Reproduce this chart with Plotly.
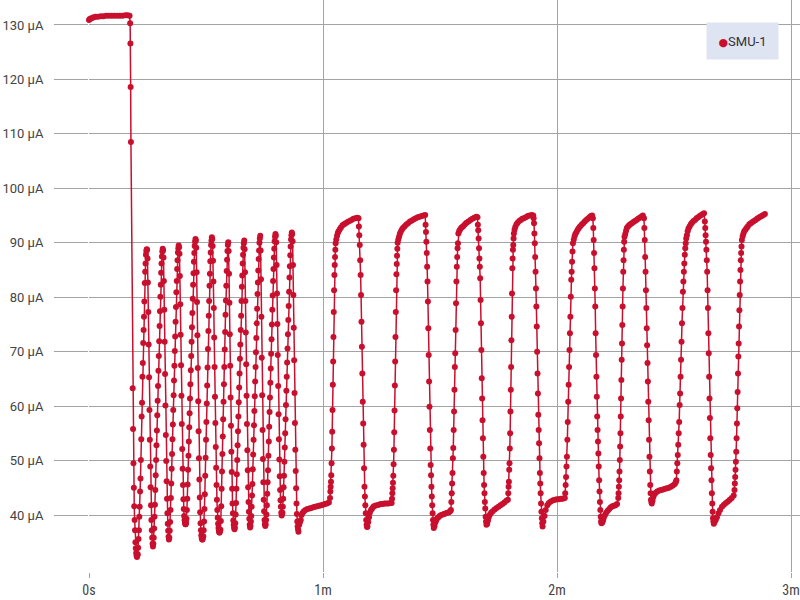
import plotly.graph_objects as go

# ---------------- data (time in seconds, current in µA) ----------------
t_hold = [0, 0.2, 0.5, 0.8, 1.2, 1.7, 2.3, 3.0, 3.7, 4.4, 5.1, 5.8, 6.5, 7.2, 7.9, 8.6, 9.3, 9.9, 10.4,
          10.55, 10.62, 10.68, 10.75,
          11.2, 11.3, 11.4, 11.5, 11.6, 11.7, 11.8, 11.9, 12.0, 12.1, 12.2, 12.3, 12.4]
i_hold = [130.9, 131.1, 131.2, 131.3, 131.4, 131.5, 131.5, 131.6, 131.6, 131.7, 131.7, 131.7, 131.7, 131.7, 131.7, 131.7, 131.8, 131.8, 131.7,
          130.3, 126.6, 118.6, 108.5,
          63.3, 55.8, 49.5, 45.0, 41.6, 39.1, 37.2, 35.0, 33.9, 33.0, 32.5, 32.3, 32.6]

t_fast = [
    [12.5, 12.6, 12.7, 12.8, 12.9, 13.0, 13.1, 13.2, 13.3, 13.4, 13.5, 13.6, 13.7, 13.8, 13.9, 14.0, 14.1, 14.2, 14.3, 14.4,
     14.5, 14.6, 14.7, 14.8, 14.9, 15.0, 15.1, 15.2, 15.3, 15.4, 15.5, 15.6, 15.7, 15.8, 15.9, 16.0, 16.1, 16.2, 16.3, 16.4],
    [16.5, 16.6, 16.7, 16.8, 16.9, 17.0, 17.1, 17.2, 17.3, 17.4, 17.5, 17.6, 17.7, 17.8, 17.9, 18.0, 18.1, 18.2, 18.3, 18.4,
     18.5, 18.6, 18.7, 18.8, 18.9, 19.0, 19.1, 19.2, 19.3, 19.4, 19.5, 19.6, 19.7, 19.8, 19.9, 20.0, 20.1, 20.2, 20.3, 20.4,
     20.5, 20.6],
    [20.7, 20.8, 20.9, 21.0, 21.1, 21.2, 21.3, 21.4, 21.5, 21.6, 21.7, 21.8, 21.9, 22.0, 22.1, 22.2, 22.3, 22.4, 22.5, 22.6,
     22.7, 22.8, 22.9, 23.0, 23.1, 23.2, 23.3, 23.4, 23.5, 23.6, 23.7, 23.8, 23.9, 24.0, 24.1, 24.2, 24.3, 24.4, 24.5, 24.6,
     24.7, 24.8, 24.9],
    [25.0, 25.1, 25.2, 25.3, 25.4, 25.5, 25.6, 25.7, 25.8, 25.9, 26.0, 26.1, 26.2, 26.3, 26.4, 26.5, 26.6, 26.7, 26.8, 26.9,
     27.0, 27.1, 27.2, 27.3, 27.4, 27.5, 27.6, 27.7, 27.8, 27.9, 28.0, 28.1, 28.2, 28.3, 28.4, 28.5, 28.6, 28.7, 28.8, 28.9,
     29.0, 29.1, 29.2, 29.3],
    [29.4, 29.5, 29.6, 29.7, 29.8, 29.9, 30.0, 30.1, 30.2, 30.3, 30.4, 30.5, 30.6, 30.7, 30.8, 30.9, 31.0, 31.1, 31.2, 31.3,
     31.4, 31.5, 31.6, 31.7, 31.8, 31.9, 32.0, 32.1, 32.2, 32.3, 32.4, 32.5, 32.6, 32.7, 32.8, 32.9, 33.0, 33.1, 33.2, 33.3,
     33.4, 33.5, 33.6, 33.7],
    [33.8, 33.9, 34.0, 34.1, 34.2, 34.3, 34.4, 34.5, 34.6, 34.7, 34.8, 34.9, 35.0, 35.1, 35.2, 35.3, 35.4, 35.5, 35.6, 35.7,
     35.8, 35.9, 36.0, 36.1, 36.2, 36.3, 36.4, 36.5, 36.6, 36.7, 36.8, 36.9, 37.0, 37.1, 37.2, 37.3, 37.4],
    [37.5, 37.6, 37.7, 37.8, 37.9, 38.0, 38.1, 38.2, 38.3, 38.4, 38.5, 38.6, 38.7, 38.8, 38.9, 39.0, 39.1, 39.2, 39.3, 39.4,
     39.5, 39.6, 39.7, 39.8, 39.9, 40.0, 40.1, 40.2, 40.3, 40.4, 40.5, 40.6, 40.7, 40.8, 40.9, 41.0, 41.1, 41.2, 41.3, 41.4],
    [41.5, 41.6, 41.7, 41.8, 41.9, 42.0, 42.1, 42.2, 42.3, 42.4, 42.5, 42.6, 42.7, 42.8, 42.9, 43.0, 43.1, 43.2, 43.3, 43.4,
     43.5, 43.6, 43.7, 43.8, 43.9, 44.0, 44.1, 44.2, 44.3, 44.4, 44.5, 44.6, 44.7, 44.8, 44.9, 45.0, 45.1, 45.2],
    [45.3, 45.4, 45.5, 45.6, 45.7, 45.8, 45.9, 46.0, 46.1, 46.2, 46.3, 46.4, 46.5, 46.6, 46.7, 46.8, 46.9, 47.0, 47.1, 47.2,
     47.3, 47.4, 47.5, 47.6, 47.7, 47.8, 47.9, 48.0, 48.1, 48.2, 48.3, 48.4, 48.5, 48.6, 48.7, 48.8, 48.9, 49.0, 49.1, 49.2,
     49.3, 49.4, 49.5],
    [49.6, 49.7, 49.8, 49.9, 50.0, 50.1, 50.2, 50.3, 50.4, 50.5, 50.6, 50.7, 50.8, 50.9, 51.0, 51.1, 51.2, 51.3, 51.4, 51.5,
     51.6, 51.7, 51.8, 51.9, 52.0, 52.1, 52.2, 52.3, 52.4, 52.5, 52.6, 52.7, 52.8, 52.9, 53.0, 53.1, 53.2, 53.3, 53.4, 53.5,
     53.6],
]
i_fast = [
    [32.8, 34.0, 35.6, 37.2, 39.7, 41.5, 44.3, 46.7, 50.1, 53.9, 58.1, 60.6, 65.4, 67.9, 71.6, 74.0, 76.4, 79.2, 82.6, 84.7,
     86.2, 87.8, 88.5, 88.8, 88.7,
     87.1, 82.7, 77.3, 71.3, 65.3, 59.3, 53.8, 48.9, 45.1, 41.8, 39.1, 37.2, 35.8, 34.7, 34.2],
    [34.7, 35.8, 37.5, 39.7, 41.9, 44.6, 47.3, 50.1, 52.8, 55.5, 58.3, 61.0, 63.7, 66.5, 69.2, 71.9, 74.7, 77.4, 80.1, 82.3,
     84.5, 86.2, 87.5, 88.4, 88.9, 88.6,
     87.3, 83.0, 77.7, 71.8, 65.9, 60.1, 54.7, 49.9, 46.2, 43.0, 40.3, 38.4, 37.1, 36.0, 35.5, 35.8],
    [37.1, 38.7, 40.9, 43.1, 45.8, 48.5, 51.2, 53.9, 56.6, 59.3, 62.0, 64.7, 67.4, 70.1, 72.8, 75.5, 78.2, 80.9, 83.0, 85.2,
     86.8, 88.2, 89.0, 89.5, 89.2,
     88.0, 83.9, 78.7, 73.1, 67.5, 61.9, 56.7, 52.1, 48.5, 45.5, 42.9, 41.1, 39.8, 39.1, 38.6, 38.3, 38.3, 38.6],
    [39.3, 40.9, 43.0, 45.6, 48.3, 50.9, 53.5, 56.1, 58.7, 61.4, 64.0, 66.6, 69.2, 71.8, 74.5, 77.1, 79.7, 82.3, 84.4, 86.5,
     88.1, 89.4, 90.2, 90.7,
     90.4, 89.1, 84.6, 79.1, 73.0, 67.0, 60.9, 55.4, 50.4, 46.5, 43.2, 40.5, 38.5, 37.2, 36.3, 35.8, 35.5, 35.5, 35.8, 36.1],
    [37.2, 38.8, 41.1, 43.8, 47.2, 50.5, 53.8, 57.1, 60.5, 63.8, 67.1, 70.5, 73.8, 76.6, 79.3, 82.1, 84.3, 86.6, 88.2, 89.6,
     90.4, 91.0, 90.7,
     89.4, 86.7, 82.9, 78.0, 72.6, 67.2, 61.7, 56.9, 52.5, 48.7, 45.5, 42.8, 40.9, 39.5, 38.4, 37.6, 37.1, 36.8, 36.8, 37.1, 37.3],
    [38.9, 41.6, 44.8, 48.0, 51.2, 54.4, 57.6, 60.8, 64.0, 67.2, 70.4, 73.6, 76.8, 79.4, 82.1, 84.8, 86.9, 88.5, 89.6, 90.1,
     88.5, 84.3, 79.0, 73.2, 67.4, 61.6, 56.4, 51.6, 47.9, 44.8, 42.1, 40.3, 39.0, 38.2, 37.7, 37.4, 37.7],
    [38.5, 40.1, 42.2, 44.8, 47.5, 50.1, 52.8, 55.4, 58.1, 60.7, 63.4, 66.0, 68.7, 71.3, 74.0, 76.6, 79.3, 81.9, 84.0, 86.2,
     87.8, 89.1, 89.9, 90.4,
     88.8, 84.6, 79.3, 73.5, 67.7, 61.9, 56.7, 51.9, 48.2, 45.1, 42.4, 40.6, 39.3, 38.2, 37.7, 38.0],
    [38.8, 39.8, 41.5, 43.6, 45.7, 48.4, 51.1, 53.8, 56.5, 59.1, 61.8, 64.5, 67.2, 69.9, 72.5, 75.2, 77.9, 80.6, 82.7, 84.9,
     87.0, 88.6, 90.0, 90.8, 91.3,
     88.6, 83.3, 76.4, 68.9, 62.0, 55.6, 50.3, 46.0, 42.8, 40.7, 39.1, 38.3, 38.0],
    [38.3, 39.1, 40.1, 41.8, 43.9, 46.0, 48.2, 50.9, 53.5, 56.2, 58.9, 61.6, 64.3, 66.9, 69.6, 72.3, 75.0, 77.7, 80.3, 83.0,
     85.2, 87.3, 88.9, 90.3, 91.1, 91.6, 91.3,
     90.1, 85.9, 80.7, 75.1, 69.4, 63.7, 58.5, 53.9, 50.2, 47.1, 44.6, 42.7, 41.5, 40.4, 39.9, 40.2],
    [40.4, 41.5, 43.0, 45.1, 47.2, 49.8, 52.4, 55.0, 57.6, 60.2, 62.8, 65.4, 68.0, 70.6, 73.2, 75.8, 78.4, 81.0, 83.6, 85.7,
     87.7, 89.3, 90.6, 91.4, 91.9, 91.6,
     90.3, 85.9, 80.4, 74.4, 68.4, 62.4, 56.9, 52.0, 48.1, 44.9, 42.1, 40.2, 38.8, 37.9, 37.4],
]

t_slow = [
    [53.7, 53.9, 54.1, 54.3, 54.5, 54.8, 55.1, 55.5, 56.0, 56.5, 57.0, 57.5, 58.0, 58.5, 59.0, 59.5, 60.0, 60.5, 61.0, 61.5,
     61.80, 61.88, 61.96, 62.04, 62.12, 62.20, 62.28, 62.36, 62.44, 62.52, 62.60, 62.68, 62.76, 62.84, 62.92, 63.00, 63.08, 63.16, 63.24,
     63.4, 63.6, 63.8, 64.0, 64.3, 64.6, 65.0, 65.4, 65.8, 66.3, 66.8, 67.3, 67.8, 68.3, 68.8, 69.1,
     69.20, 69.31, 69.42, 69.53, 69.64, 69.75, 69.86, 69.97, 70.08, 70.19, 70.30, 70.41, 70.52, 70.63, 70.74, 70.85, 70.96, 71.07, 71.18, 71.29],
    [71.4, 71.6, 71.8, 72.0, 72.3, 72.6, 72.9, 73.3, 73.8, 74.3, 74.8, 75.3, 75.8, 76.3, 76.8, 77.3, 77.6,
     77.70, 77.78, 77.86, 77.94, 78.02, 78.10, 78.18, 78.26, 78.34, 78.42, 78.50, 78.58, 78.66, 78.74, 78.82, 78.90, 78.98, 79.06, 79.14,
     79.3, 79.5, 79.7, 79.9, 80.2, 80.5, 80.9, 81.3, 81.8, 82.3, 82.8, 83.3, 83.8, 84.3, 84.8, 85.3, 85.8, 86.2,
     86.3, 86.4, 86.5, 86.6, 86.7, 86.8, 86.9, 87.0, 87.1, 87.2, 87.3, 87.4, 87.5, 87.6, 87.7, 87.8, 87.9, 88.0, 88.1, 88.2, 88.3],
    [88.4, 88.6, 88.8, 89.0, 89.3, 89.6, 89.9, 90.3, 90.7, 91.1, 91.5, 91.9, 92.3, 92.6,
     92.8, 92.9, 93.0, 93.1, 93.2, 93.3, 93.4, 93.5, 93.6, 93.7, 93.8, 93.9, 94.0, 94.1, 94.2, 94.3, 94.4, 94.5, 94.6, 94.7,
     94.9, 95.1, 95.4, 95.7, 96.0, 96.4, 96.8, 97.3, 97.8, 98.3, 98.8, 99.3, 99.6,
     99.7, 99.8, 99.9, 100.0, 100.1, 100.2, 100.3, 100.4, 100.5, 100.6, 100.7, 100.8, 100.9, 101.0, 101.1, 101.2, 101.3, 101.4,
     101.5, 101.6, 101.7, 101.8, 101.9],
    [102.1, 102.3, 102.5, 102.8, 103.1, 103.5, 104.0, 104.5, 105.0, 105.5, 106.0, 106.5, 107.0, 107.4,
     107.50, 107.58, 107.66, 107.74, 107.82, 107.90, 107.98, 108.06, 108.14, 108.22, 108.30, 108.38, 108.46, 108.54, 108.62, 108.70,
     108.78, 108.86, 108.94,
     109.1, 109.3, 109.6, 109.9, 110.3, 110.7, 111.1, 111.5, 112.0, 112.5, 113.0, 113.5, 113.9,
     114.0, 114.1, 114.2, 114.3, 114.4, 114.5, 114.6, 114.7, 114.8, 114.9, 115.0, 115.1, 115.2, 115.3, 115.4, 115.5, 115.6, 115.7,
     115.8, 115.9, 116.0, 116.1, 116.2, 116.3],
    [116.5, 116.8, 117.1, 117.5, 117.9, 118.4, 119.0, 119.5, 120.0, 120.5, 121.0, 121.5, 122.0,
     122.10, 122.21, 122.32, 122.43, 122.54, 122.65, 122.76, 122.87, 122.98, 123.09, 123.20, 123.31, 123.42, 123.53, 123.64, 123.75,
     123.86, 123.97, 124.08,
     124.3, 124.5, 124.7, 125.0, 125.3, 125.6, 125.9, 126.3, 126.7, 127.1, 127.5, 127.9, 128.3, 128.7, 129.0,
     129.2, 129.3, 129.4, 129.5, 129.6, 129.7, 129.8, 129.9, 130.0, 130.1, 130.2, 130.3, 130.4, 130.5, 130.6, 130.7, 130.8, 130.9,
     131.0, 131.1, 131.2, 131.3, 131.4],
    [131.6, 131.8, 132.0, 132.3, 132.6, 133.0, 133.4, 133.8, 134.2, 134.6, 135.0, 135.4,
     135.70, 135.78, 135.86, 135.94, 136.02, 136.10, 136.18, 136.26, 136.34, 136.42, 136.50, 136.58, 136.66, 136.74, 136.82, 136.90,
     136.98, 137.06, 137.14, 137.22, 137.30,
     137.5, 137.7, 137.9, 138.2, 138.5, 138.8, 139.2, 139.6, 140.0, 140.4, 140.8, 141.2, 141.6, 142.0,
     142.3, 142.4, 142.5, 142.6, 142.7, 142.8, 142.9, 143.0, 143.1, 143.2, 143.3, 143.4, 143.5, 143.6, 143.7, 143.8, 143.9, 144.0,
     144.1, 144.2],
    [144.3, 144.5, 144.7, 145.0, 145.3, 145.7, 146.2, 146.7, 147.2, 147.7, 148.2, 148.7, 149.2, 149.7, 150.2, 150.45,
     150.60, 150.72, 150.84, 150.96, 151.08, 151.20, 151.32, 151.44, 151.56, 151.68, 151.80, 151.92, 152.04, 152.16, 152.28, 152.40,
     152.52, 152.64, 152.76, 152.88, 153.00, 153.12,
     153.3, 153.5, 153.7, 154.0, 154.3, 154.6, 155.0, 155.4, 155.8, 156.2, 156.6, 157.0, 157.4, 157.7,
     157.9, 158.0, 158.1, 158.2, 158.3, 158.4, 158.5, 158.6, 158.7, 158.8, 158.9, 159.0, 159.1, 159.2, 159.3, 159.4, 159.5, 159.6,
     159.7, 159.8, 159.9, 160.0, 160.1, 160.2],
    [160.4, 160.7, 161.0, 161.4, 161.8, 162.3, 162.8, 163.3, 163.8, 164.3, 164.8, 165.3,
     165.50, 165.59, 165.68, 165.77, 165.86, 165.95, 166.04, 166.13, 166.22, 166.31, 166.40, 166.49, 166.58, 166.67, 166.76, 166.85,
     166.94, 167.03, 167.12, 167.21, 167.30, 167.39,
     167.6, 167.8, 168.0, 168.3, 168.6, 168.9, 169.3, 169.7, 170.1, 170.5, 170.9, 171.3, 171.7, 172.1, 172.5, 172.9, 173.3],
]
i_slow = [
    [36.9, 38.2, 38.7, 39.1, 40.0, 40.4, 40.7, 40.9, 41.1, 41.2, 41.3, 41.4, 41.5, 41.6, 41.7, 41.8, 41.9, 42.0, 42.1, 42.3,
     43.1, 44.3, 45.2, 46.1, 47.3, 49.5, 52.2, 55.3, 59.3, 63.9, 68.2, 72.7, 77.3, 81.3, 84.1, 85.9, 87.4, 88.7, 89.9,
     90.6, 91.3, 91.8, 92.1, 92.5, 92.8, 93.2, 93.4, 93.6, 93.8, 94.0, 94.2, 94.4, 94.5, 94.6, 94.5,
     93.0, 91.4, 89.6, 86.8, 84.1, 80.4, 75.5, 70.9, 66.0, 60.8, 56.8, 52.9, 48.6, 45.2, 43.4, 41.8, 40.3, 39.1, 38.2, 37.8],
    [37.9, 38.7, 39.6, 40.4, 40.9, 41.2, 41.5, 41.7, 41.8, 41.9, 42.0, 42.0, 42.1, 42.1, 42.1, 42.2, 42.2,
     43.0, 44.0, 44.9, 45.9, 47.2, 49.3, 52.0, 55.2, 59.2, 63.8, 68.2, 72.7, 77.3, 81.3, 84.2, 86.1, 87.6, 88.9, 90.0,
     90.6, 91.1, 91.6, 92.0, 92.4, 92.7, 93.0, 93.3, 93.6, 93.9, 94.1, 94.3, 94.5, 94.7, 94.8, 94.9, 95.0, 95.1,
     93.3, 92.0, 90.2, 88.1, 85.6, 82.9, 79.2, 74.3, 69.4, 64.5, 59.9, 55.6, 52.2, 49.2, 47.3, 45.2, 43.4, 41.8, 40.3, 39.1, 38.2],
    [37.6, 38.0, 38.6, 39.0, 39.4, 39.6, 39.8, 40.0, 40.1, 40.2, 40.3, 40.4, 40.5, 40.7,
     40.9, 42.4, 44.0, 45.8, 47.7, 50.4, 52.3, 55.6, 59.0, 63.0, 67.2, 69.7, 74.0, 78.9, 82.9, 85.6, 87.4, 89.0, 89.9, 91.7,
     92.1, 92.4, 92.7, 92.9, 93.1, 93.4, 93.7, 93.9, 94.2, 94.4, 94.6, 94.8, 94.7,
     93.3, 92.3, 90.8, 89.0, 87.1, 85.6, 83.5, 79.5, 75.2, 70.3, 65.1, 61.4, 57.4, 54.1, 50.7, 47.7, 45.5, 44.0, 42.4, 41.2,
     39.7, 38.8, 38.2],
    [38.4, 39.0, 39.6, 40.1, 40.4, 40.7, 41.0, 41.3, 41.5, 41.8, 42.0, 42.3, 42.6, 42.8,
     44.0, 45.2, 46.1, 48.3, 49.5, 52.2, 55.0, 59.0, 63.0, 67.2, 72.1, 76.4, 80.7, 85.3, 87.1, 88.7, 89.6, 90.8, 91.7,
     92.4, 92.9, 93.4, 93.7, 94.0, 94.2, 94.4, 94.5, 94.7, 94.9, 95.0, 95.1, 95.0,
     94.5, 93.6, 91.7, 89.9, 87.4, 84.7, 81.6, 78.3, 74.6, 70.0, 66.0, 62.3, 58.4, 55.6, 53.2, 50.4, 47.7, 45.8, 44.0, 42.1,
     40.6, 39.4, 38.5, 37.9],
    [38.8, 39.8, 40.9, 41.8, 42.2, 42.5, 42.7, 42.8, 42.9, 42.9, 43.0, 43.0, 43.1,
     44.0, 45.5, 47.0, 48.9, 50.7, 53.8, 57.1, 60.8, 63.9, 67.2, 70.3, 73.4, 76.4, 80.1, 83.2, 84.7, 86.5, 88.4, 89.9,
     90.6, 91.2, 91.6, 92.0, 92.4, 92.7, 93.0, 93.3, 93.6, 93.9, 94.2, 94.4, 94.7, 94.9, 95.0,
     94.5, 92.7, 90.5, 88.1, 85.3, 81.6, 78.3, 73.4, 69.4, 65.4, 61.7, 58.1, 55.6, 53.5, 51.3, 48.9, 46.4, 44.3, 42.4, 40.9,
     39.7, 38.8, 38.5],
    [38.6, 39.0, 39.5, 40.0, 40.4, 40.8, 41.1, 41.4, 41.6, 41.7, 41.8, 42.0,
     43.1, 44.0, 45.2, 46.4, 48.0, 50.1, 52.6, 55.0, 58.1, 61.4, 64.8, 68.5, 71.5, 74.9, 78.3, 81.6, 84.7, 86.8, 88.7, 90.2, 91.1,
     91.6, 92.2, 92.7, 93.0, 93.2, 93.4, 93.6, 93.8, 94.0, 94.2, 94.4, 94.6, 94.8, 95.0,
     94.5, 92.7, 90.5, 87.4, 84.7, 81.3, 78.0, 74.3, 71.2, 67.9, 64.5, 60.8, 57.4, 53.8, 50.7, 48.0, 45.5, 44.0, 42.8, 42.4],
    [42.1, 42.6, 43.3, 43.8, 44.1, 44.3, 44.5, 44.6, 44.7, 44.8, 44.9, 45.0, 45.2, 45.4, 45.7, 46.0,
     46.4, 48.0, 49.5, 51.0, 52.9, 55.0, 57.1, 60.2, 62.3, 65.4, 68.5, 71.8, 75.2, 78.0, 81.0, 82.9, 84.7, 86.2, 87.8, 89.0,
     89.9, 90.8,
     91.4, 92.1, 92.6, 93.0, 93.4, 93.7, 94.0, 94.2, 94.5, 94.7, 94.9, 95.1, 95.3, 95.4,
     93.9, 92.7, 91.4, 90.2, 88.7, 86.8, 84.7, 81.3, 78.0, 73.4, 69.7, 65.4, 61.4, 57.8, 54.1, 51.0, 48.6, 46.4, 44.0, 42.1,
     40.6, 39.4, 38.8, 38.4],
    [38.7, 39.1, 39.6, 40.3, 40.9, 41.5, 41.9, 42.2, 42.5, 42.8, 43.1, 43.6,
     44.6, 45.8, 47.0, 48.3, 49.8, 51.6, 54.1, 56.8, 59.6, 62.6, 66.0, 69.1, 71.5, 74.6, 77.6, 80.4, 82.9, 85.0, 86.8, 88.1,
     89.3, 90.5,
     91.2, 91.7, 92.1, 92.4, 92.7, 93.0, 93.4, 93.6, 93.8, 94.0, 94.2, 94.4, 94.6, 94.8, 94.9, 95.1, 95.3],
]

x_tick_values = [0, 60, 120, 180]
x_tick_labels = ["0s", "1m", "2m", "3m"]
y_tick_values = [40, 50, 60, 70, 80, 90, 100, 110, 120, 130]
y_tick_labels = ["40 µA", "50 µA", "60 µA", "70 µA", "80 µA", "90 µA", "100 µA", "110 µA", "120 µA", "130 µA"]
series_name = "SMU-1"

# ---------------- assemble ----------------
time_s = list(t_hold)
current_uA = list(i_hold)
assert len(t_hold) == len(i_hold), (len(t_hold), len(i_hold))
for ts, vs in zip(t_fast + t_slow, i_fast + i_slow):
    assert len(ts) == len(vs), (ts[0], len(ts), len(vs))
    time_s += ts
    current_uA += vs
for a, b in zip(time_s, time_s[1:]):
    assert b > a, (a, b)

RED = "#c8102e"
GRID = "#a3a3a3"

fig = go.Figure()
fig.add_trace(go.Scatter(
    x=time_s, y=current_uA, mode="lines+markers", name=series_name,
    line=dict(color=RED, width=1.5),
    marker=dict(color=RED, size=6),
    cliponaxis=False, showlegend=False,
))

# legend box drawn as an annotation (dot + series name)
fig.add_annotation(
    xref="paper", yref="paper", x=0.8678, y=0.9615, xanchor="left", yanchor="top",
    width=71, height=36, borderpad=0, bgcolor="#dfe4f2", showarrow=False,
    align="center", valign="middle",
    text=f"<span style='color:{RED};font-size:11px;font-family:DejaVu Sans'>●</span>{series_name}",
    font=dict(family="Roboto", size=13, color="#333333"),
)

fig.update_layout(
    width=800, height=600,
    margin=dict(l=89, r=0, t=0, b=28),
    paper_bgcolor="white", plot_bgcolor="white",
    showlegend=False,
    font=dict(family="Roboto, Arial, sans-serif", size=13, color="#444444"),
    xaxis=dict(
        range=[0, 182.3], tickvals=x_tick_values, ticktext=x_tick_labels,
        showgrid=True, gridcolor=GRID, gridwidth=1, zeroline=False, showline=False,
        ticks="outside", ticklen=5, tickcolor=GRID,
        tickfont=dict(family="Roboto Condensed, Liberation Sans Narrow, DejaVu Sans Condensed, Roboto", size=14, color="#444444"),
    ),
    yaxis=dict(
        range=[29.53, 134.59], tickvals=y_tick_values, ticktext=y_tick_labels,
        showgrid=True, gridcolor=GRID, gridwidth=1, zeroline=False, showline=False,
        ticks="outside", ticklen=34, tickcolor=GRID, ticklabelstandoff=8,
        tickfont=dict(family="Roboto", size=13, color="#444444"),
    ),
)

fig.write_html("out.html", config={"displayModeBar": False},
               post_script="document.body.style.margin='0px';")
